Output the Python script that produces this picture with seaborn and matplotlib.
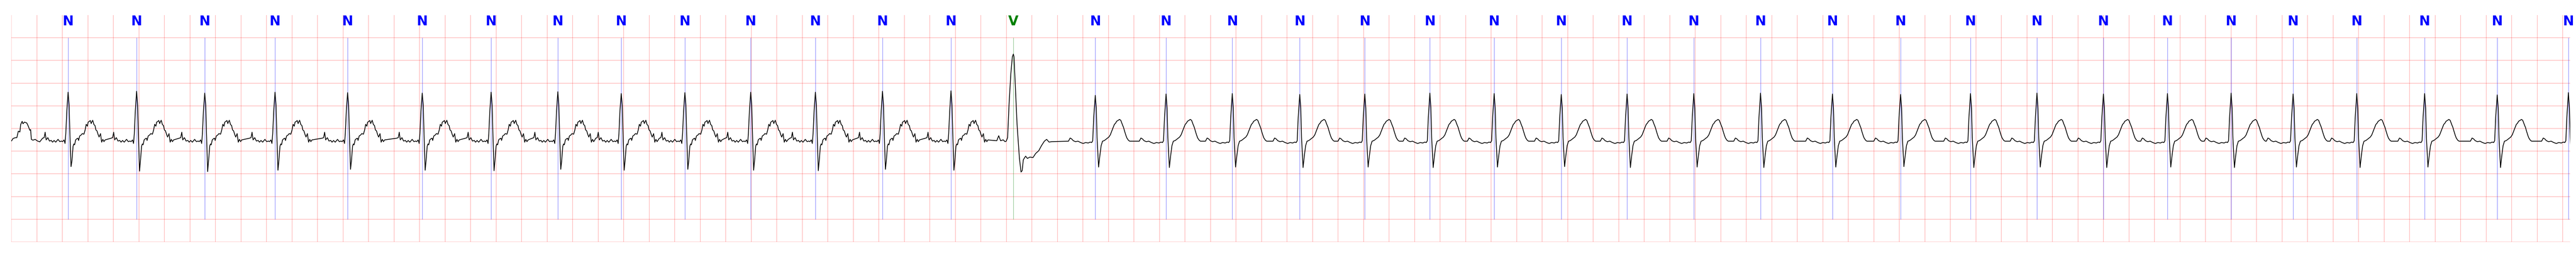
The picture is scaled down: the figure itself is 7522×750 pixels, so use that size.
import matplotlib
matplotlib.use('Agg')
from matplotlib import pyplot as plt
import numpy as np
import seaborn as sns

sns.set_style('white')

# Beat annotations (time of R peak in seconds, label)
beat_t = [0.444, 0.981, 1.515, 2.066, 2.635, 3.220, 3.760, 4.283, 4.780, 5.279,
          5.795, 6.302, 6.828, 7.365, 7.854, 8.496, 9.051, 9.570, 10.099, 10.609,
          11.119, 11.623, 12.149, 12.665, 13.188, 13.711, 14.275, 14.809, 15.357,
          15.878, 16.399, 16.901, 17.400, 17.886, 18.385, 18.917, 19.486, 20.044]
beat_lab = ['N'] * 14 + ['V'] + ['N'] * 23

# Peak (R) and trough (S) amplitude of each beat, mV
r_amp = [0.80, 0.82, 0.78, 0.80, 0.79, 0.78, 0.80, 0.81, 0.77, 0.79, 0.80, 0.80, 0.82, 0.83,
         1.64,
         0.73, 0.76, 0.77, 0.75, 0.76, 0.78, 0.77, 0.75, 0.76, 0.77, 0.78, 0.76, 0.75, 0.77,
         0.78, 0.76, 0.77, 0.78, 0.76, 0.77, 0.77, 0.74, 0.79]
s_amp = [-0.84, -0.94, -0.95, -0.92, -0.90, -0.92, -0.93, -0.90, -0.92, -0.90, -0.92, -0.93, -0.90, -0.92,
         -0.96,
         -0.85, -0.86, -0.85, -0.86, -0.85, -0.86, -0.85, -0.84, -0.86, -0.85, -0.86, -0.85, -0.84,
         -0.86, -0.85, -0.86, -0.85, -0.86, -0.85, -0.86, -0.85, -0.86, -0.85]

# Trace before the first annotated beat (tail of previous T wave): (t, mV)
lead = [(0.000, -0.276), (0.012, -0.221), (0.030, -0.203), (0.042, -0.203), (0.054, -0.059),
        (0.066, -0.077), (0.072, 0.086), (0.084, 0.158), (0.090, 0.104), (0.102, 0.140),
        (0.120, 0.122), (0.132, 0.050), (0.144, -0.041), (0.150, -0.023), (0.156, -0.240),
        (0.168, -0.258), (0.186, -0.240), (0.204, -0.276), (0.222, -0.294)]

# Normal beat shape, first (noisier) part of the strip: (offset from R in s, mV)
n1_shape = [(-0.200, -0.214), (-0.188, -0.202), (-0.180, -0.083), (-0.172, -0.252), (-0.159, -0.202),
            (-0.146, -0.277), (-0.132, -0.264), (-0.122, -0.302), (-0.110, -0.264), (-0.097, -0.302),
            (-0.079, -0.239), (-0.065, -0.290), (-0.052, -0.277), (-0.043, -0.290), (-0.032, -0.252),
            (-0.024, -0.330), (-0.018, -0.113), (-0.010, 0.390), (0.000, 0.798), (0.008, 0.516),
            (0.014, -0.113), (0.023, -0.844), (0.030, -0.718), (0.039, -0.390), (0.045, -0.340),
            (0.051, -0.360), (0.059, -0.252), (0.068, -0.227), (0.077, -0.214), (0.082, -0.264),
            (0.091, -0.164), (0.102, -0.144), (0.111, -0.113), (0.124, -0.126), (0.133, -0.038),
            (0.142, 0.093), (0.151, 0.050), (0.157, 0.139), (0.166, 0.156), (0.174, 0.176),
            (0.181, 0.108), (0.187, 0.151), (0.193, 0.181), (0.202, 0.088), (0.211, 0.063),
            (0.218, -0.033), (0.226, -0.050), (0.236, -0.139), (0.243, -0.189), (0.254, -0.113),
            (0.263, -0.302), (0.272, -0.239), (0.281, -0.290), (0.290, -0.252)]

# Normal beat shape after the ectopic beat
n2_shape = [(-0.210, -0.28), (-0.197, -0.21), (-0.185, -0.23), (-0.172, -0.27), (-0.155, -0.29),
            (-0.135, -0.28), (-0.115, -0.31), (-0.095, -0.33), (-0.075, -0.31), (-0.055, -0.32),
            (-0.040, -0.30), (-0.028, -0.31), (-0.020, -0.27), (-0.012, 0.25), (0.000, 0.77),
            (0.008, 0.45), (0.014, -0.20), (0.026, -0.85), (0.036, -0.60), (0.046, -0.38),
            (0.057, -0.28), (0.068, -0.27), (0.079, -0.25), (0.092, -0.22), (0.106, -0.19),
            (0.118, -0.14), (0.129, -0.06), (0.140, 0.02), (0.150, 0.09), (0.160, 0.12),
            (0.168, 0.16), (0.180, 0.18), (0.190, 0.20), (0.200, 0.18), (0.212, 0.09),
            (0.222, 0.02), (0.230, -0.06), (0.240, -0.15), (0.248, -0.21), (0.260, -0.26),
            (0.270, -0.28)]

# Ventricular beat shape
v_shape = [(-0.130, -0.27), (-0.115, -0.16), (-0.100, -0.27), (-0.080, -0.25), (-0.065, -0.29),
           (-0.056, -0.28), (-0.045, -0.20), (-0.034, 0.52), (-0.020, 1.20), (-0.008, 1.58),
           (0.000, 1.64), (0.005, 1.58), (0.011, 1.21), (0.020, 0.66), (0.029, 0.09),
           (0.047, -0.64), (0.060, -0.96), (0.069, -0.93), (0.078, -0.69), (0.096, -0.61),
           (0.110, -0.66), (0.130, -0.63), (0.154, -0.64), (0.175, -0.55), (0.199, -0.49),
           (0.220, -0.38), (0.243, -0.28), (0.261, -0.24), (0.280, -0.30), (0.300, -0.29)]

label_colors = {'N': 'blue', 'V': 'green'}
v_time = beat_t[beat_lab.index('V')]

# Assemble the trace
ts, vs = [np.array([p[0] for p in lead])], [np.array([p[1] for p in lead])]
for bt, lab, r, s in zip(beat_t, beat_lab, r_amp, s_amp):
  shape = v_shape if lab == 'V' else (n1_shape if bt < v_time else n2_shape)
  off = np.array([p[0] for p in shape])
  val = np.array([p[1] for p in shape])
  val[np.argmax(val)] = r
  val[np.argmin(val)] = s
  ts.append(bt + off)
  vs.append(val)
trace_t = np.concatenate(ts)
trace_v = np.concatenate(vs)

fig = plt.figure(figsize=(37.61, 3.75), dpi=200)
ax = fig.add_axes([0.00445, 0.0587, 0.99329, 0.8827])

ax.set_axisbelow(True)
ax.set_xticks(np.arange(0, 20.001, 0.2))
ax.set_yticks(np.arange(-2.5, 2.01, 0.5))
ax.grid(True, color='red', alpha=0.25, lw=0.7)
ax.tick_params(length=0, labelbottom=False, labelleft=False)
for sp in ax.spines.values():
  sp.set_visible(False)

for bt, lab in zip(beat_t, beat_lab):
  c = label_colors[lab]
  ax.vlines(bt, -2.0, 2.0, colors=c, lw=0.5, alpha=0.5)
  ax.text(bt, 2.5, lab, ha='center', va='top', fontsize=14, fontweight='bold', color=c, clip_on=False)

sns.lineplot(x=trace_t, y=trace_v, sort=False, estimator=None, color='black', lw=0.8, ax=ax)

ax.set_xlim(0, 20.058)
ax.set_ylim(-2.5, 2.5)
ax.set_xlabel('')
ax.set_ylabel('')

fig.savefig('out.png', dpi=200)
